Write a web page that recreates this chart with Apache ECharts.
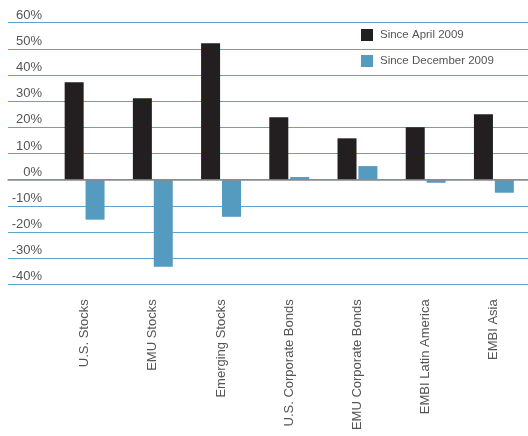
<!DOCTYPE html>
<html>
<head>
<meta charset="utf-8">
<script src="https://cdn.jsdelivr.net/npm/echarts@6/dist/echarts.min.js"></script>
<style>html,body{margin:0;padding:0;background:#fff;}#c{width:528px;height:436px;}</style>
</head>
<body>
<div id="c"></div>
<script>
const categories = ['U.S. Stocks', 'EMU Stocks', 'Emerging Stocks', 'U.S. Corporate Bonds', 'EMU Corporate Bonds', 'EMBI Latin America', 'EMBI Asia'];
const sinceApril2009 = [37.2, 31.1, 52.1, 23.9, 15.8, 20.0, 25.0];
const sinceDecember2009 = [-15.3, -33.3, -14.2, 1.0, 5.2, -1.2, -5.0];
const seriesNames = ['Since April 2009', 'Since December 2009'];
const yMin = -40, yMax = 60, yStep = 10;

const chart = echarts.init(document.getElementById('c'), null, {renderer: 'canvas'});
const gTop = 22.7, gBottom = 436 - 284.3;
chart.setOption({
  animation: false,
  backgroundColor: '#ffffff',
  textStyle: {fontFamily: 'Liberation Sans, Arial, sans-serif'},
  legend: {
    orient: 'vertical',
    left: 361, top: 29, padding: 0,
    itemWidth: 12, itemHeight: 12, itemGap: 14,
    icon: 'rect',
    textStyle: {fontSize: 11.5, color: '#555', padding: [0, 0, 0, 2]},
    data: seriesNames
  },
  grid: [
    {left: 8, right: 0, top: gTop, bottom: gBottom},
    {left: 50.5, width: 483, top: gTop, bottom: gBottom}
  ],
  xAxis: [
    {gridIndex: 0, type: 'category', data: categories, axisLine: {show: true, onZero: true, lineStyle: {color: '#8a8a8a', width: 1.5}}, axisTick: {show: false}, axisLabel: {show: false}, splitLine: {show: false}, z: 5},
    {gridIndex: 1, type: 'category', data: categories, axisLine: {show: false}, axisTick: {show: false},
     axisLabel: {rotate: 90, margin: 15, fontSize: 13, color: '#555', interval: 0}}
  ],
  yAxis: [
    {gridIndex: 0, type: 'value', min: yMin, max: yMax, interval: yStep,
     axisLine: {show: false}, axisTick: {show: false},
     splitLine: {lineStyle: {color: '#5ea3cd', width: 1.2}},
     axisLabel: {inside: true, margin: 34, align: 'right', verticalAlign: 'bottom', padding: [0, 0, 1, 0], fontSize: 13, color: '#555', formatter: '{value}%'}},
    {gridIndex: 1, type: 'value', min: yMin, max: yMax, interval: yStep, show: false, splitLine: {show: false}}
  ],
  series: [
    {name: seriesNames[0], type: 'bar', xAxisIndex: 1, yAxisIndex: 1, data: sinceApril2009, barWidth: 19, barGap: '10%', itemStyle: {color: '#231f20'}, z: 3},
    {name: seriesNames[1], type: 'bar', xAxisIndex: 1, yAxisIndex: 1, data: sinceDecember2009, barWidth: 19, barGap: '10%', itemStyle: {color: '#559bc0'}, z: 3}
  ]
});
</script>
</body>
</html>
